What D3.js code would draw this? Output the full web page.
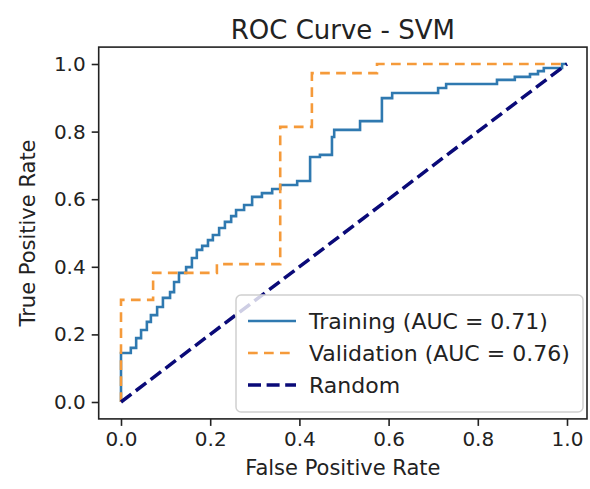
<!DOCTYPE html>
<html>
<head>
<meta charset="utf-8">
<script src="https://cdn.jsdelivr.net/npm/d3@7"></script>
<style>
  body { margin: 0; background: #fff; }
  text { font-family: "DejaVu Sans", sans-serif; fill: #222; }
</style>
</head>
<body>
<svg id="chart" width="590" height="489"></svg>
<script>
// ROC points (fpr, tpr)
var trainFpr = [0, 0, 0.022, 0.034, 0.045, 0.058, 0.067, 0.081, 0.094, 0.110, 0.119, 0.130, 0.146, 0.159, 0.170, 0.182, 0.195, 0.206, 0.220, 0.233, 0.247, 0.258, 0.276, 0.294, 0.316, 0.339, 0.357, 0.395, 0.424, 0.446, 0.473, 0.478, 0.536, 0.585, 0.608, 0.711, 0.729, 0.843, 0.883, 0.917, 0.935, 0.948, 0.989, 1];
var trainTpr = [0, 0.145, 0.160, 0.189, 0.213, 0.237, 0.257, 0.281, 0.308, 0.325, 0.355, 0.382, 0.399, 0.426, 0.450, 0.462, 0.479, 0.494, 0.515, 0.533, 0.550, 0.568, 0.583, 0.607, 0.618, 0.630, 0.642, 0.654, 0.725, 0.731, 0.784, 0.805, 0.831, 0.899, 0.914, 0.929, 0.941, 0.953, 0.962, 0.970, 0.979, 0.988, 1, 1];
var valFpr = [0, 0, 0.072, 0.215, 0.357, 0.428, 0.574, 1];
var valTpr = [0, 0.302, 0.382, 0.408, 0.814, 0.973, 1, 1];
var randFpr = [0, 1];
var randTpr = [0, 1];

var ticks = [0, 0.2, 0.4, 0.6, 0.8, 1.0];
var legendLabels = ["Training (AUC = 0.71)", "Validation (AUC = 0.76)", "Random"];

var svg = d3.select("#chart");

var x = d3.scaleLinear().domain([-0.05, 1.05]).range([98.7, 589.3]);
var y = d3.scaleLinear().domain([-0.05, 1.05]).range([418.9, 47.1]);

var plotLeft = x(-0.05), plotRight = 587, plotTop = y(1.05), plotBottom = y(-0.05);

// clip for the plot lines
svg.append("clipPath").attr("id", "plotClip")
  .append("rect").attr("x", plotLeft).attr("y", plotTop)
  .attr("width", plotRight - plotLeft).attr("height", plotBottom - plotTop);

// axes
var xAxis = svg.append("g")
  .attr("transform", "translate(0," + plotBottom + ")")
  .call(d3.axisBottom(x).tickValues(ticks).tickFormat(d3.format(".1f")).tickSize(7).tickPadding(6));
var yAxis = svg.append("g")
  .attr("transform", "translate(" + plotLeft + ",0)")
  .call(d3.axisLeft(y).tickValues(ticks).tickFormat(d3.format(".1f")).tickSize(7).tickPadding(6));

[xAxis, yAxis].forEach(function(a) {
  a.select(".domain").remove();
  a.selectAll(".tick line").attr("stroke", "#222").attr("stroke-width", 1.6);
  a.selectAll(".tick text").style("font-size", "20px").attr("fill", "#222");
});

function lineOf(fpr, tpr, curve) {
  var pts = fpr.map(function(f, i) { return [f, tpr[i]]; });
  return d3.line()
    .x(function(d) { return x(d[0]); })
    .y(function(d) { return y(d[1]); })
    .curve(curve)(pts);
}

var plot = svg.append("g").attr("clip-path", "url(#plotClip)");

plot.append("path")
  .attr("d", lineOf(trainFpr, trainTpr, d3.curveStepAfter))
  .attr("fill", "none").attr("stroke", "#2f79b0").attr("stroke-width", 2.6);

plot.append("path")
  .attr("d", lineOf(valFpr, valTpr, d3.curveStepAfter))
  .attr("fill", "none").attr("stroke", "#f59a3a").attr("stroke-width", 2.6)
  .attr("stroke-dasharray", "9.7,6.3");

plot.append("path")
  .attr("d", lineOf(randFpr, randTpr, d3.curveLinear))
  .attr("fill", "none").attr("stroke", "#0a0a78").attr("stroke-width", 3.5)
  .attr("stroke-dasharray", "13,5.6");

// frame
svg.append("rect")
  .attr("x", plotLeft).attr("y", plotTop)
  .attr("width", plotRight - plotLeft).attr("height", plotBottom - plotTop)
  .attr("fill", "none").attr("stroke", "#222").attr("stroke-width", 1.6);

// title and axis labels
svg.append("text").attr("x", (plotLeft + plotRight) / 2).attr("y", 30)
  .attr("text-anchor", "middle").attr("dominant-baseline", "central")
  .style("font-size", "26px").text("ROC Curve - SVM");
svg.append("text").attr("x", (plotLeft + plotRight) / 2).attr("y", 468)
  .attr("text-anchor", "middle").attr("dominant-baseline", "central")
  .style("font-size", "21px").text("False Positive Rate");
svg.append("text")
  .attr("transform", "translate(28," + ((plotTop + plotBottom) / 2) + ") rotate(-90)")
  .attr("text-anchor", "middle").attr("dominant-baseline", "central")
  .style("font-size", "21px").text("True Positive Rate");

// legend
var legend = svg.append("g");
legend.append("rect")
  .attr("x", 236).attr("y", 295).attr("width", 347).attr("height", 117)
  .attr("rx", 5).attr("fill", "rgba(255,255,255,0.8)")
  .attr("stroke", "#d0d0d0").attr("stroke-width", 1.5);

var legendStyles = [
  { color: "#2f79b0", width: 2.6, dash: null },
  { color: "#f59a3a", width: 2.6, dash: "9.7,6.3" },
  { color: "#0a0a78", width: 3.5, dash: "13,5.6" }
];

var rows = legend.selectAll(".row").data(legendLabels).enter().append("g")
  .attr("transform", function(d, i) { return "translate(0," + (321 + i * 32) + ")"; });
rows.append("line")
  .attr("x1", 248).attr("x2", 296).attr("y1", 0).attr("y2", 0)
  .attr("stroke", function(d, i) { return legendStyles[i].color; })
  .attr("stroke-width", function(d, i) { return legendStyles[i].width; })
  .attr("stroke-dasharray", function(d, i) { return legendStyles[i].dash; });
rows.append("text")
  .attr("x", 309).attr("y", 0).attr("dominant-baseline", "central")
  .style("font-size", "22px").text(function(d) { return d; });
</script>
</body>
</html>
